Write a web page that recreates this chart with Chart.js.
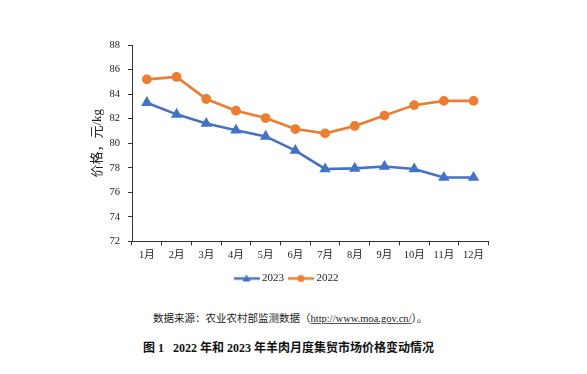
<!DOCTYPE html>
<html>
<head>
<meta charset="utf-8">
<script src="https://cdn.jsdelivr.net/npm/chart.js@4/dist/chart.umd.min.js"></script>
<style>
html,body{margin:0;padding:0;background:#fff;width:587px;height:374px;overflow:hidden;position:relative}
#wrap{position:absolute;left:85px;top:30px;width:410px;height:264px}
.src{position:absolute;left:153px;top:310px;font:10.5px "Liberation Serif","Noto Sans CJK SC",serif;color:#222;white-space:nowrap}
.src u{text-decoration:underline;text-decoration-color:#555}
.ttl{position:absolute;left:143px;top:338px;font:bold 12px "Liberation Serif","Noto Sans CJK SC",serif;color:#111;white-space:nowrap}
</style>
</head>
<body>
<div id="wrap"><canvas id="c"></canvas></div>
<div class="src">数据来源：农业农村部监测数据（<u>http://www.moa.gov.cn/</u>）。</div>
<div class="ttl">图 1&nbsp;&nbsp;&nbsp;2022 年和 2023 年羊肉月度集贸市场价格变动情况</div>
<script>
const months=['1月','2月','3月','4月','5月','6月','7月','8月','9月','10月','11月','12月'];
const price2023=[83.3,82.35,81.6,81.05,80.55,79.4,77.9,77.95,78.1,77.9,77.2,77.2];
const price2022=[85.2,85.4,83.6,82.65,82.05,81.15,80.8,81.4,82.25,83.1,83.45,83.45];
const yMin=72, yMax=88, yStep=2;

const blue='#4472C4', orange='#ED7D31';
const font='"Liberation Serif","Noto Sans CJK SC",serif';

function legendIcon(color,shape){
  const cv=document.createElement('canvas');
  cv.width=26;cv.height=10;
  const g=cv.getContext('2d');
  g.strokeStyle=color;g.lineWidth=2.5;
  g.beginPath();g.moveTo(0,5);g.lineTo(26,5);g.stroke();
  g.fillStyle=color;g.beginPath();
  if(shape==='tri'){g.moveTo(13,1);g.lineTo(17,8);g.lineTo(9,8);g.closePath();}
  else{g.arc(13,5,3.5,0,Math.PI*2);}
  g.fill();
  return cv;
}

new Chart(document.getElementById('c'),{
  type:'line',
  data:{
    labels:months,
    datasets:[
      {label:'2023',data:price2023,borderColor:blue,backgroundColor:blue,borderWidth:2.6,pointStyle:'triangle',pointRadius:4,pointBackgroundColor:blue,pointBorderColor:blue,tension:0,legendIcon:legendIcon(blue,'tri')},
      {label:'2022',data:price2022,borderColor:orange,backgroundColor:orange,borderWidth:2.6,pointStyle:'circle',pointRadius:3.6,pointBackgroundColor:orange,pointBorderColor:orange,tension:0,legendIcon:legendIcon(orange,'circ')}
    ]
  },
  options:{
    responsive:true,maintainAspectRatio:false,animation:false,
    layout:{padding:{top:15,right:5,left:0,bottom:0}},
    plugins:{
      tooltip:{enabled:false},
      legend:{position:'bottom',
        labels:{usePointStyle:true,pointStyleWidth:20,padding:7,color:'#222',font:{family:font,size:11},
          generateLabels:chart=>chart.data.datasets.map((d,i)=>({text:d.label,pointStyle:d.legendIcon,fillStyle:d.borderColor,strokeStyle:d.borderColor,lineWidth:0,datasetIndex:i,fontColor:'#222'}))}}
    },
    scales:{
      x:{offset:true,
        border:{display:true,color:'#333',width:1},
        grid:{display:true,offset:true,drawOnChartArea:false,drawTicks:true,tickLength:4,color:'#333'},
        ticks:{color:'#222',font:{family:font,size:10.5},padding:4,maxRotation:0}},
      y:{min:yMin,max:yMax,
        afterFit:s=>{s.width=47;},
        border:{display:true,color:'#333',width:1},
        grid:{display:true,drawOnChartArea:false,drawTicks:true,tickLength:4,color:'#333'},
        ticks:{stepSize:yStep,color:'#222',font:{family:font,size:10.5},padding:8},
        title:{display:true,text:'价格，元/kg',color:'#222',font:{family:font,size:13},padding:{top:5,bottom:0}}}
    }
  }
});
</script>
</body>
</html>
